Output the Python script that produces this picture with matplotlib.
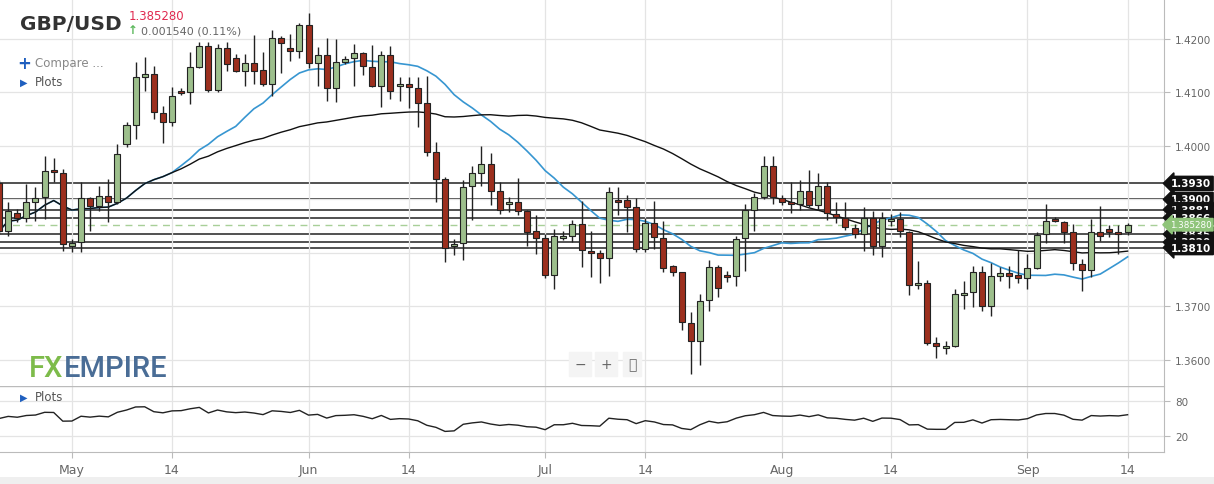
import matplotlib.pyplot as plt
import numpy as np
import pandas as pd
from matplotlib.patches import Rectangle

# Daily GBP/USD candles (Sunday-Friday sessions).
opens = [1.3931, 1.3841, 1.3875, 1.3865, 1.3895, 1.3905, 1.3955, 1.3949, 1.3813, 1.3820,
         1.3903, 1.3888, 1.3906, 1.3895, 1.4004, 1.4039, 1.4129, 1.4135, 1.4062, 1.4045,
         1.4103, 1.4101, 1.4148, 1.4187, 1.4105, 1.4183, 1.4164, 1.4140, 1.4155, 1.4142,
         1.4116, 1.4202, 1.4183, 1.4178, 1.4226, 1.4155, 1.4170, 1.4108, 1.4157, 1.4164,
         1.4174, 1.4148, 1.4112, 1.4170, 1.4112, 1.4116, 1.4108, 1.4080, 1.3989, 1.3938,
         1.3813, 1.3819, 1.3925, 1.3949, 1.3966, 1.3916, 1.3891, 1.3895, 1.3878, 1.3841,
         1.3828, 1.3759, 1.3828, 1.3832, 1.3854, 1.3804, 1.3800, 1.3790, 1.3899, 1.3899,
         1.3886, 1.3807, 1.3856, 1.3828, 1.3776, 1.3764, 1.3669, 1.3635, 1.3712, 1.3774,
         1.3759, 1.3757, 1.3828, 1.3880, 1.3905, 1.3963, 1.3903, 1.3895, 1.3891, 1.3916,
         1.3890, 1.3925, 1.3873, 1.3865, 1.3847, 1.3835, 1.3865, 1.3813, 1.3860, 1.3863,
         1.3839, 1.3740, 1.3744, 1.3632, 1.3622, 1.3626, 1.3721, 1.3727, 1.3764, 1.3701,
         1.3757, 1.3762, 1.3759, 1.3753, 1.3772, 1.3835, 1.3863, 1.3858, 1.3839, 1.3779,
         1.3768, 1.3839, 1.3845, 1.3839, 1.3839]
highs = [1.3936, 1.3895, 1.3882, 1.3929, 1.3923, 1.3981, 1.3977, 1.3957, 1.3826, 1.3933,
         1.3905, 1.3925, 1.3938, 1.4004, 1.4045, 1.4157, 1.4166, 1.4150, 1.4075, 1.4110,
         1.4108, 1.4176, 1.4194, 1.4194, 1.4191, 1.4194, 1.4172, 1.4172, 1.4207, 1.4176,
         1.4217, 1.4206, 1.4209, 1.4230, 1.4249, 1.4185, 1.4202, 1.4200, 1.4168, 1.4191,
         1.4176, 1.4189, 1.4178, 1.4187, 1.4129, 1.4129, 1.4129, 1.4131, 1.4007, 1.3942,
         1.3826, 1.3936, 1.3963, 1.4000, 1.3987, 1.3933, 1.3905, 1.3940, 1.3880, 1.3871,
         1.3835, 1.3845, 1.3841, 1.3862, 1.3897, 1.3841, 1.3805, 1.3923, 1.3923, 1.3908,
         1.3903, 1.3865, 1.3897, 1.3860, 1.3777, 1.3764, 1.3690, 1.3723, 1.3787, 1.3777,
         1.3766, 1.3832, 1.3891, 1.3912, 1.3981, 1.3981, 1.3908, 1.3933, 1.3936, 1.3955,
         1.3949, 1.3933, 1.3895, 1.3895, 1.3854, 1.3886, 1.3878, 1.3876, 1.3873, 1.3876,
         1.3841, 1.3785, 1.3749, 1.3643, 1.3635, 1.3733, 1.3747, 1.3776, 1.3776, 1.3781,
         1.3774, 1.3776, 1.3805, 1.3798, 1.3839, 1.3891, 1.3867, 1.3860, 1.3854, 1.3789,
         1.3863, 1.3888, 1.3852, 1.3852, 1.3856]
lows = [1.3835, 1.3832, 1.3858, 1.3858, 1.3860, 1.3863, 1.3933, 1.3804, 1.3802, 1.3802,
        1.3841, 1.3878, 1.3858, 1.3891, 1.3998, 1.4013, 1.4103, 1.4050, 1.4006, 1.4037,
        1.4095, 1.4078, 1.4146, 1.4101, 1.4101, 1.4140, 1.4138, 1.4112, 1.4116, 1.4112,
        1.4093, 1.4136, 1.4159, 1.4164, 1.4146, 1.4112, 1.4084, 1.4082, 1.4153, 1.4112,
        1.4133, 1.4110, 1.4073, 1.4088, 1.4084, 1.4071, 1.4035, 1.3981, 1.3895, 1.3783,
        1.3796, 1.3787, 1.3862, 1.3925, 1.3890, 1.3873, 1.3876, 1.3871, 1.3813, 1.3798,
        1.3753, 1.3733, 1.3824, 1.3820, 1.3774, 1.3755, 1.3744, 1.3757, 1.3871, 1.3839,
        1.3802, 1.3802, 1.3807, 1.3764, 1.3757, 1.3656, 1.3574, 1.3590, 1.3691, 1.3718,
        1.3746, 1.3738, 1.3766, 1.3841, 1.3901, 1.3891, 1.3890, 1.3875, 1.3880, 1.3886,
        1.3880, 1.3862, 1.3856, 1.3843, 1.3828, 1.3804, 1.3796, 1.3792, 1.3850, 1.3830,
        1.3721, 1.3733, 1.3628, 1.3603, 1.3611, 1.3624, 1.3695, 1.3699, 1.3691, 1.3682,
        1.3747, 1.3734, 1.3744, 1.3733, 1.3770, 1.3819, 1.3858, 1.3819, 1.3768, 1.3729,
        1.3755, 1.3822, 1.3830, 1.3798, 1.3833]
closes = [1.3841, 1.3878, 1.3865, 1.3895, 1.3903, 1.3953, 1.3951, 1.3817, 1.3819, 1.3903,
          1.3888, 1.3906, 1.3895, 1.3985, 1.4039, 1.4129, 1.4135, 1.4063, 1.4045, 1.4093,
          1.4099, 1.4148, 1.4187, 1.4105, 1.4183, 1.4153, 1.4140, 1.4155, 1.4140, 1.4116,
          1.4202, 1.4193, 1.4178, 1.4226, 1.4155, 1.4170, 1.4108, 1.4157, 1.4163, 1.4174,
          1.4150, 1.4112, 1.4170, 1.4103, 1.4116, 1.4110, 1.4080, 1.3989, 1.3938, 1.3809,
          1.3817, 1.3923, 1.3949, 1.3966, 1.3916, 1.3880, 1.3895, 1.3878, 1.3839, 1.3828,
          1.3759, 1.3832, 1.3832, 1.3854, 1.3805, 1.3800, 1.3790, 1.3914, 1.3895, 1.3886,
          1.3807, 1.3856, 1.3830, 1.3772, 1.3764, 1.3671, 1.3635, 1.3710, 1.3774, 1.3734,
          1.3755, 1.3826, 1.3880, 1.3905, 1.3963, 1.3905, 1.3895, 1.3891, 1.3916, 1.3890,
          1.3925, 1.3875, 1.3867, 1.3848, 1.3835, 1.3865, 1.3813, 1.3865, 1.3863, 1.3841,
          1.3740, 1.3744, 1.3632, 1.3626, 1.3626, 1.3723, 1.3725, 1.3764, 1.3701, 1.3757,
          1.3762, 1.3757, 1.3753, 1.3772, 1.3833, 1.3860, 1.3860, 1.3839, 1.3781, 1.3768,
          1.3839, 1.3832, 1.3839, 1.3835, 1.38528]

# Support / resistance levels drawn on the chart.
levels = [1.3930, 1.3900, 1.3881, 1.3866, 1.3835, 1.3820, 1.3810]
last_price = 1.38528

price_ticks = [1.3600, 1.3700, 1.3800, 1.3900, 1.4000, 1.4100, 1.4200]
price_labels = ["1.3600", "1.3700", "", "", "1.4000", "1.4100", "1.4200"]

# Sessions run Sunday to Friday, no Saturday candles.
days = pd.date_range("2021-03-20", "2021-09-14")
dates = days[days.dayofweek != 5][-len(closes):]
x = np.arange(1, len(closes) + 1)

tick_dates = ["2021-05-01", "2021-05-14", "2021-06-01", "2021-06-14", "2021-07-01",
              "2021-07-14", "2021-08-01", "2021-08-14", "2021-09-01", "2021-09-14"]
tick_text = ["May", "14", "Jun", "14", "Jul", "14", "Aug", "14", "Sep", "14"]
tick_pos = [x[np.searchsorted(dates, pd.Timestamp(d))] for d in tick_dates]

close_s = pd.Series(closes)
ma_fast = close_s.rolling(20, min_periods=1).mean()
ma_slow = close_s.rolling(50, min_periods=1).mean()

# Wilder RSI(14), seeded neutral since earlier history is not on the chart
delta = close_s.diff().fillna(0).to_numpy()
up = np.clip(delta, 0, None)
down = np.clip(-delta, 0, None)
seed = np.abs(delta[1:15]).mean() / 2
avg_up = np.zeros(len(delta))
avg_dn = np.zeros(len(delta))
prev_u, prev_d = seed, seed
for i in range(len(delta)):
    prev_u = (prev_u * 13 + up[i]) / 14
    prev_d = (prev_d * 13 + down[i]) / 14
    avg_up[i], avg_dn[i] = prev_u, prev_d
rsi = 100 * avg_up / (avg_up + avg_dn)

GREEN = "#9dbf8c"
RED = "#9c2f1e"
GRID = "#e4e4e4"
TXT = "#666666"

fig = plt.figure(figsize=(12.14, 4.85), dpi=100)
ax = fig.add_axes([0, 0.202, 1164 / 1214, 0.798])
ax2 = fig.add_axes([0, 0.066, 1164 / 1214, 0.136])
xmin, xmax = 1.1, 129.0

# Candles
for i in range(len(closes)):
    o, h, l, c = opens[i], highs[i], lows[i], closes[i]
    col = GREEN if c >= o else RED
    ax.vlines(x[i], l, h, color="#222222", lw=1, zorder=3)
    bottom = min(o, c)
    height = max(abs(c - o), 0.00006)
    ax.add_patch(Rectangle((x[i] - 0.33, bottom), 0.66, height, facecolor=col,
                           edgecolor="#222222", lw=0.8, zorder=4))

ax.plot(x, ma_fast, color="#3796d1", lw=1.2, zorder=2)
ax.plot(x, ma_slow, color="#111111", lw=1.0, zorder=2)

for lv in levels:
    ax.axhline(lv, color="#333333", lw=1.2, zorder=1)
ax.axhline(last_price, color="#a8cf98", lw=1, ls=(0, (5, 4)), zorder=1)

ax.set_xlim(xmin, xmax)
ax.set_ylim(1.35511, 1.42748)
ax.set_yticks(price_ticks)
ax.set_yticklabels(price_labels)
ax.yaxis.tick_right()
ax.tick_params(axis="y", length=4, colors="#bbbbbb", labelcolor=TXT, labelsize=7.5, pad=4)
ax.set_xticks(tick_pos)
ax.tick_params(axis="x", length=0, labelbottom=False)
ax.grid(True, color=GRID, lw=0.9, zorder=0)
for s in ["top", "left", "bottom"]:
    ax.spines[s].set_visible(False)
ax.spines["right"].set_color("#bbbbbb")

# Level labels on the right edge
for lv in levels:
    ax.annotate(f"{lv:.4f}", xy=(1.0, lv), xycoords=("axes fraction", "data"),
                xytext=(5, 0), textcoords="offset points", va="center", ha="left",
                color="white", fontsize=7.5, fontweight="bold", zorder=10,
                annotation_clip=False,
                bbox=dict(boxstyle="larrow,pad=0.2", fc="#111111", ec="#111111"))
ax.annotate(f"{last_price:.6f}", xy=(1.0, last_price), xycoords=("axes fraction", "data"),
            xytext=(4, 0), textcoords="offset points", va="center", ha="left",
            color="white", fontsize=6.3, zorder=11, annotation_clip=False,
            bbox=dict(boxstyle="larrow,pad=0.2", fc="#8fc47a", ec="#8fc47a"))

# Header texts
fig.text(20 / 1214, 1 - 24 / 485, "GBP/USD", fontsize=14.5, fontweight="bold",
         color="#333333", va="center")
fig.text(129 / 1214, 1 - 16 / 485, "1.385280", fontsize=8.5, color="#e0294f", va="center")
fig.text(128 / 1214, 1 - 31 / 485, "\u2191", fontsize=8.5, color="#5cb85c",
         fontweight="bold", va="center")
fig.text(141 / 1214, 1 - 31 / 485, "0.001540 (0.11%)", fontsize=8, color=TXT, va="center")
fig.text(17 / 1214, 1 - 64 / 485, "+", fontsize=12, color="#1f5fbf", fontweight="bold",
         va="center")
fig.text(35 / 1214, 1 - 64 / 485, "Compare ...", fontsize=8.5, color="#888888", va="center")
for yy in (83, 398):
    fig.text(20 / 1214, 1 - yy / 485, "\u25B6", fontsize=7, color="#1f5fbf", va="center")
    fig.text(35 / 1214, 1 - yy / 485, "Plots", fontsize=8.5, color="#555555", va="center")

fig.text(29 / 1214, 1 - 369 / 485, "FX", fontsize=21, color="#7dbb4a", va="center",
         fontfamily="Roboto", fontweight="medium")
fig.text(64 / 1214, 1 - 369 / 485, "EMPIRE", fontsize=21, color="#4a6d96", va="center",
         fontfamily="Roboto", fontweight="medium")

# Zoom buttons
for bx, sym in [(580, "\u2212"), (606, "+"), (632, "\u26F6")]:
    fig.text(bx / 1214, 1 - 365 / 485, sym, fontsize=10, color="#666666", ha="center",
             va="center", bbox=dict(boxstyle="square,pad=0.35", fc="#f4f4f4", ec="#f4f4f4"))

# Oscillator panel
ax2.plot(x, rsi, color="#222222", lw=1)
ax2.set_xlim(xmin, xmax)
ax2.set_ylim(-7.4, 105.7)
ax2.set_yticks([20, 80])
ax2.yaxis.tick_right()
ax2.tick_params(axis="y", length=4, colors="#bbbbbb", labelcolor=TXT, labelsize=7.5, pad=4)
ax2.set_xticks(tick_pos)
ax2.set_xticklabels(tick_text)
ax2.tick_params(axis="x", length=4, colors="#bbbbbb", labelcolor=TXT, labelsize=9, pad=4)
ax2.grid(True, color=GRID, lw=0.9)
for s in ["top", "left"]:
    ax2.spines[s].set_visible(False)
ax2.spines["right"].set_color("#bbbbbb")
ax2.spines["bottom"].set_color("#bbbbbb")
ax2.axhline(105.7, color="#bbbbbb", lw=1)

fig.patches.append(Rectangle((0, 0), 1, 7 / 485, transform=fig.transFigure,
                             fc="#efefef", ec="none"))

fig.savefig("out.png", dpi=100)
